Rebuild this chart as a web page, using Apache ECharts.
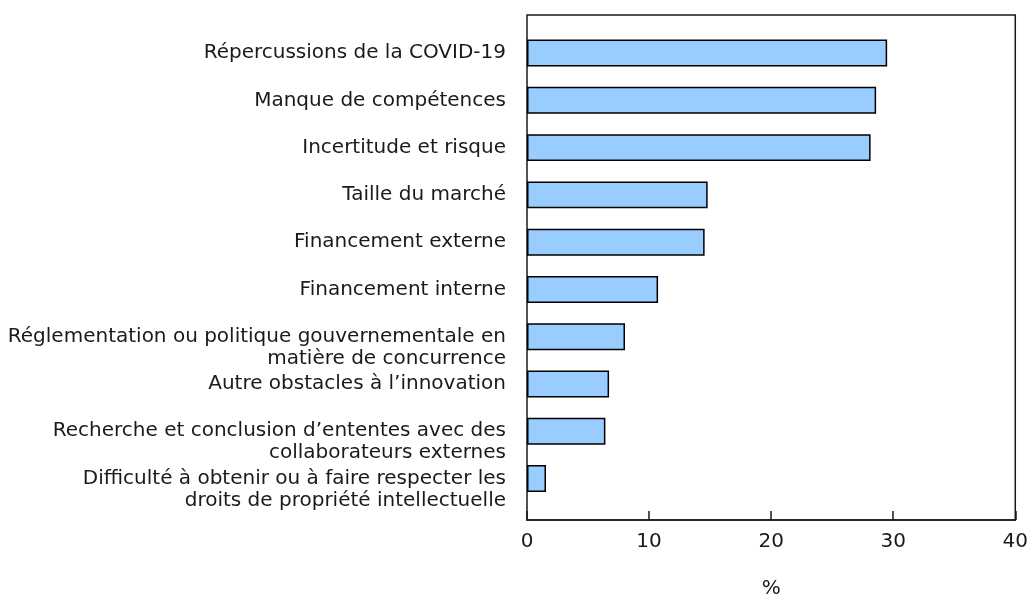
<!DOCTYPE html>
<html>
<head>
<meta charset="utf-8">
<script src="https://cdn.jsdelivr.net/npm/echarts@6/dist/echarts.min.js"></script>
<style>
  html, body { margin: 0; padding: 0; background: #ffffff; }
  #chart { width: 1031px; height: 604px; }
</style>
</head>
<body>
<div id="chart"></div>
<script>
const categories = [
  'Répercussions de la COVID-19',
  'Manque de compétences',
  'Incertitude et risque',
  'Taille du marché',
  'Financement externe',
  'Financement interne',
  'Réglementation ou politique gouvernementale en\nmatière de concurrence',
  'Autre obstacles à l\u2019innovation',
  'Recherche et conclusion d\u2019ententes avec des\ncollaborateurs externes',
  'Difficulté à obtenir ou à faire respecter les\ndroits de propriété intellectuelle'
];
const values = [29.4, 28.5, 28.05, 14.75, 14.5, 10.7, 8.0, 6.7, 6.4, 1.55];
const axisName = '%';
const xMin = 0, xMax = 40, xInterval = 10;

const FONT = 'DejaVu Sans, Verdana, sans-serif';
const TXT = '#1a1a1a';

const chart = echarts.init(document.getElementById('chart'), null, { renderer: 'canvas' });
chart.setOption({
  animation: false,
  backgroundColor: '#ffffff',
  textStyle: { fontFamily: FONT },
  grid: [
    { left: 527, right: 14, top: 15, bottom: 68, show: true, borderColor: '#1a1a1a', borderWidth: 1.5, backgroundColor: 'transparent' },
    { left: 527, right: 14, top: 29.4, height: 472.8 }
  ],
  xAxis: [
    {
      gridIndex: 0, type: 'value', min: xMin, max: xMax, interval: xInterval,
      axisLine: { show: true, lineStyle: { color: '#1a1a1a', width: 1.5 } },
      axisTick: { show: true, inside: true, length: 9, lineStyle: { color: '#1a1a1a', width: 1.5 } },
      axisLabel: { fontSize: 20, margin: 12, color: TXT, fontFamily: FONT },
      splitLine: { show: false },
      name: axisName, nameLocation: 'middle', nameGap: 59,
      nameTextStyle: { fontSize: 20, color: TXT, fontFamily: FONT }
    },
    { gridIndex: 1, type: 'value', min: xMin, max: xMax, show: false }
  ],
  yAxis: [
    { gridIndex: 0, type: 'value', show: false },
    {
      gridIndex: 1, type: 'category', data: categories, inverse: true,
      axisLine: { show: false }, axisTick: { show: false }, splitLine: { show: false },
      axisLabel: {
        interval: 0, hideOverlap: false,
        fontSize: 20, margin: 21, color: TXT, fontFamily: FONT, lineHeight: 22,
        formatter: function (v) { return v.indexOf('\n') >= 0 ? '\n' + v : v; }
      }
    }
  ],
  series: [{
    type: 'bar', xAxisIndex: 1, yAxisIndex: 1, data: values,
    barCategoryGap: '43%',
    itemStyle: { color: '#99CCFF', borderColor: '#000000', borderWidth: 1.5 },
    silent: true
  }]
});
</script>
</body>
</html>
